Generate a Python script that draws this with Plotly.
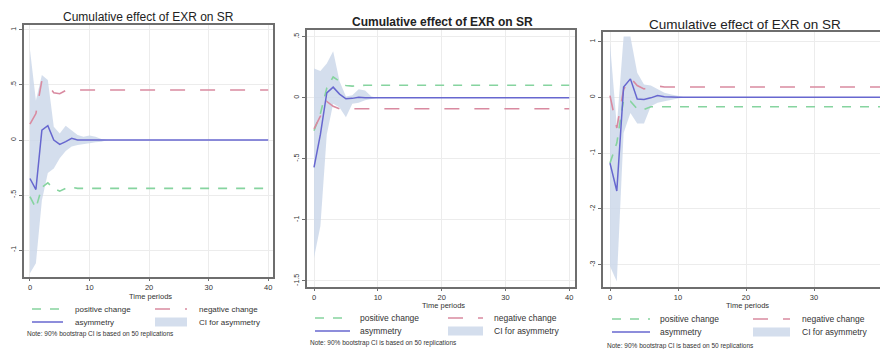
import plotly.graph_objects as go

W, H = 880, 349

# ---------------- data ----------------
periods = [0, 1, 2, 3, 4, 5, 6, 7, 8, 9, 10, 11, 12, 13, 40]

pos1 = [-0.515, -0.62, -0.43, -0.39, -0.44, -0.465, -0.44, -0.43, -0.44, -0.44, -0.44, -0.44, -0.44, -0.44, -0.44]
neg1 = [0.145, 0.24, 0.54, 0.50, 0.43, 0.42, 0.45, 0.455, 0.455, 0.455, 0.455, 0.455, 0.455, 0.455, 0.455]
asy1 = [-0.35, -0.45, 0.09, 0.13, 0.0, -0.04, -0.015, 0.015, 0.0, 0.0, 0.0, 0.0, 0.0, 0.0, 0.0]
up1 = [0.82, 0.36, 0.59, 0.545, 0.12, 0.06, 0.13, 0.09, 0.045, 0.03, 0.04, 0.03, 0.01, 0.0, 0.0]
lo1 = [-1.21, -1.12, -0.55, -0.30, -0.26, -0.165, -0.10, -0.06, -0.045, -0.04, -0.03, -0.02, -0.015, 0.0, 0.0]

pos2 = [-0.27, -0.13, 0.08, 0.17, 0.135, 0.10, 0.095, 0.10, 0.103, 0.103, 0.103, 0.103, 0.103, 0.103, 0.103]
neg2 = [-0.255, -0.15, -0.03, -0.07, -0.09, -0.09, -0.09, -0.09, -0.09, -0.09, -0.09, -0.09, -0.09, -0.09, -0.09]
asy2 = [-0.57, -0.30, 0.04, 0.087, 0.03, -0.008, -0.005, 0.005, 0.0, 0.0, 0.0, 0.0, 0.0, 0.0, 0.0]
up2 = [0.24, 0.22, 0.28, 0.38, 0.135, 0.01, 0.02, 0.07, 0.06, 0.01, 0.0, 0.0, 0.0, 0.0, 0.0]
lo2 = [-1.31, -1.05, -0.30, -0.05, -0.08, -0.16, -0.05, -0.04, -0.02, -0.01, 0.0, 0.0, 0.0, 0.0, 0.0]

pos3 = [-1.18, -0.82, -0.04, -0.07, -0.21, -0.22, -0.17, -0.17, -0.17, -0.17, -0.17, -0.17, -0.17, -0.17, -0.17]
neg3 = [0.03, -0.55, 0.14, 0.35, 0.21, 0.15, 0.185, 0.20, 0.185, 0.185, 0.185, 0.185, 0.185, 0.185, 0.185]
asy3 = [-1.18, -1.68, 0.185, 0.33, -0.03, -0.04, -0.01, 0.03, 0.01, 0.0, 0.0, 0.0, 0.0, 0.0, 0.0]
up3 = [0.97, -0.52, 1.09, 1.09, 0.44, 0.23, 0.21, 0.15, 0.08, 0.05, 0.02, 0.0, 0.0, 0.0, 0.0]
lo3 = [-3.03, -3.30, -0.64, -0.28, -0.47, -0.47, -0.16, -0.10, -0.07, -0.04, -0.02, 0.0, 0.0, 0.0, 0.0]

x_ticks = [0, 10, 20, 30, 40]
y_ticks1 = [1, 0.5, 0, -0.5, -1]
y_labels1 = ["1", ".5", "0", "-.5", "-1"]
y_ticks2 = [0.5, 0, -0.5, -1, -1.5]
y_labels2 = [".5", "0", "-.5", "-1", "-1.5"]
y_ticks3 = [1, 0, -1, -2, -3]
y_labels3 = ["1", "0", "-1", "-2", "-3"]

title_text = "Cumulative effect of EXR on SR"
xlab_text = "Time periods"
leg_texts = ["positive change", "negative change", "asymmetry", "CI for asymmetry"]
note_text = "Note: 90% bootstrap CI is based on 50 replications"

# ---------------- styling ----------------
FONT = "Liberation Sans, Arial, sans-serif"
C_POS = "#86d49f"
C_NEG = "#d98aa0"
C_ASY = "#6767cf"
C_CI = "rgba(205,216,234,0.85)"
C_FRAME = "#6e6e6e"
C_GRID = "#ececec"
C_TXT = "#333333"

# panel geometry in pixels: frame left/right/top/bottom, x range, y range
panels = [
    dict(data=(pos1, neg1, asy1, up1, lo1), yt=y_ticks1, yl=y_labels1,
         px=(24, 273), py=(25, 277), xr=[-1.0, 40.8], yr=[-1.245, 1.045],
         title=(148, 17, 12, False), xl_y=296, leg=(309, 322, 334),
         keys=(32, 63, 73, 155, 187, 197), note_x=25, lfs=8, nfs=6.5, full=True),
    dict(data=(pos2, neg2, asy2, up2, lo2), yt=y_ticks2, yl=y_labels2,
         px=(307, 575), py=(30, 287), xr=[-1.1, 40.9], yr=[-1.55, 0.555],
         title=(442, 22, 12, True), xl_y=305.5, leg=(318, 331, 343),
         keys=(315, 350, 358, 448, 483, 492), note_x=308, lfs=8.5, nfs=6.5, full=True),
    dict(data=(pos3, neg3, asy3, up3, lo3), yt=y_ticks3, yl=y_labels3,
         px=(603, 880), py=(32, 287), xr=[-1.03, 39.7], yr=[-3.4, 1.17],
         title=(745, 25, 13.5, False), xl_y=305.5, leg=(319, 332, 346),
         keys=(612, 650, 658, 753, 790, 800), note_x=605, lfs=8.5, nfs=6.5, full=False),
]

def fx(p):
    return p / W

def fy(p):
    return 1 - p / H

fig = go.Figure()
shapes = []
annots = []

for i, pnl in enumerate(panels):
    n = "" if i == 0 else str(i + 1)
    xa, ya = "x" + n, "y" + n
    pos, neg, asy, up, lo = pnl["data"]
    # CI band
    fig.add_trace(go.Scatter(x=periods, y=up, xaxis=xa, yaxis=ya, mode="lines",
                             line=dict(width=0, color=C_CI), showlegend=False, hoverinfo="skip"))
    fig.add_trace(go.Scatter(x=periods, y=lo, xaxis=xa, yaxis=ya, mode="lines",
                             line=dict(width=0, color=C_CI), fill="tonexty", fillcolor=C_CI,
                             showlegend=False, hoverinfo="skip"))
    fig.add_trace(go.Scatter(x=periods, y=pos, xaxis=xa, yaxis=ya, mode="lines",
                             line=dict(color=C_POS, width=1.6, dash="dash"), showlegend=False))
    fig.add_trace(go.Scatter(x=periods, y=neg, xaxis=xa, yaxis=ya, mode="lines",
                             line=dict(color=C_NEG, width=1.6, dash="longdash"), showlegend=False))
    fig.add_trace(go.Scatter(x=periods, y=asy, xaxis=xa, yaxis=ya, mode="lines",
                             line=dict(color=C_ASY, width=1.5), showlegend=False))

    l, r = pnl["px"]
    t, b = pnl["py"]
    fig.layout["xaxis" + n] = dict(
        domain=[fx(l), fx(r)], anchor=ya, range=pnl["xr"], tickvals=x_ticks,
        showgrid=True, gridcolor=C_GRID, gridwidth=1, zeroline=False,
        showline=True, linecolor=C_FRAME, linewidth=1.5, mirror=True,
        ticks="outside", ticklen=2, tickcolor=C_FRAME,
        tickfont=dict(family=FONT, size=7.5, color=C_TXT), fixedrange=True)
    fig.layout["yaxis" + n] = dict(
        domain=[fy(b), fy(t)], anchor=xa, range=pnl["yr"], tickvals=pnl["yt"],
        ticktext=pnl["yl"], tickangle=-90,
        showgrid=True, gridcolor=C_GRID, gridwidth=1, zeroline=False,
        showline=True, linecolor=C_FRAME, linewidth=1.5, mirror=pnl["full"],
        ticks="outside", ticklen=3, tickcolor=C_FRAME,
        tickfont=dict(family=FONT, size=7, color=C_TXT), fixedrange=True)

    tx, ty, tfs, tbold = pnl["title"]
    ttxt = "<b>" + title_text + "</b>" if tbold else title_text
    annots.append(dict(x=fx(tx), y=fy(ty), xref="paper", yref="paper", text=ttxt,
                       showarrow=False, xanchor="center", yanchor="middle",
                       font=dict(family=FONT, size=tfs, color="#222222")))
    annots.append(dict(x=fx((l + (r if pnl["full"] else 888)) / 2 + 2), y=fy(pnl["xl_y"]),
                       xref="paper", yref="paper", text=xlab_text, showarrow=False,
                       xanchor="center", yanchor="middle",
                       font=dict(family=FONT, size=7.5, color=C_TXT)))

    r1, r2, rn = pnl["leg"]
    k1a, k1b, t1, k2a, k2b, t2 = pnl["keys"]
    shapes.append(dict(type="line", xref="paper", yref="paper", x0=fx(k1a), x1=fx(k1b),
                       y0=fy(r1), y1=fy(r1), line=dict(color=C_POS, width=1.6, dash="dash")))
    shapes.append(dict(type="line", xref="paper", yref="paper", x0=fx(k2a), x1=fx(k2b),
                       y0=fy(r1), y1=fy(r1), line=dict(color=C_NEG, width=1.6, dash="longdash")))
    shapes.append(dict(type="line", xref="paper", yref="paper", x0=fx(k1a), x1=fx(k1b),
                       y0=fy(r2), y1=fy(r2), line=dict(color=C_ASY, width=1.5)))
    shapes.append(dict(type="rect", xref="paper", yref="paper", x0=fx(k2a), x1=fx(k2b),
                       y0=fy(r2 + 4.5), y1=fy(r2 - 4.5), line=dict(width=0), fillcolor=C_CI))
    for (xx, yy, txt) in [(t1, r1, leg_texts[0]), (t2, r1, leg_texts[1]),
                          (t1, r2, leg_texts[2]), (t2, r2, leg_texts[3])]:
        annots.append(dict(x=fx(xx), y=fy(yy), xref="paper", yref="paper", text=txt,
                           showarrow=False, xanchor="left", yanchor="middle",
                           font=dict(family=FONT, size=pnl["lfs"], color=C_TXT)))
    annots.append(dict(x=fx(pnl["note_x"]), y=fy(rn), xref="paper", yref="paper", text=note_text,
                       showarrow=False, xanchor="left", yanchor="middle",
                       font=dict(family=FONT, size=pnl["nfs"], color=C_TXT)))

fig.update_layout(width=W, height=H, margin=dict(l=0, r=0, t=0, b=0),
                  paper_bgcolor="white", plot_bgcolor="white", showlegend=False,
                  shapes=shapes, annotations=annots)

fig.write_html("out.html", config={"displayModeBar": False})
